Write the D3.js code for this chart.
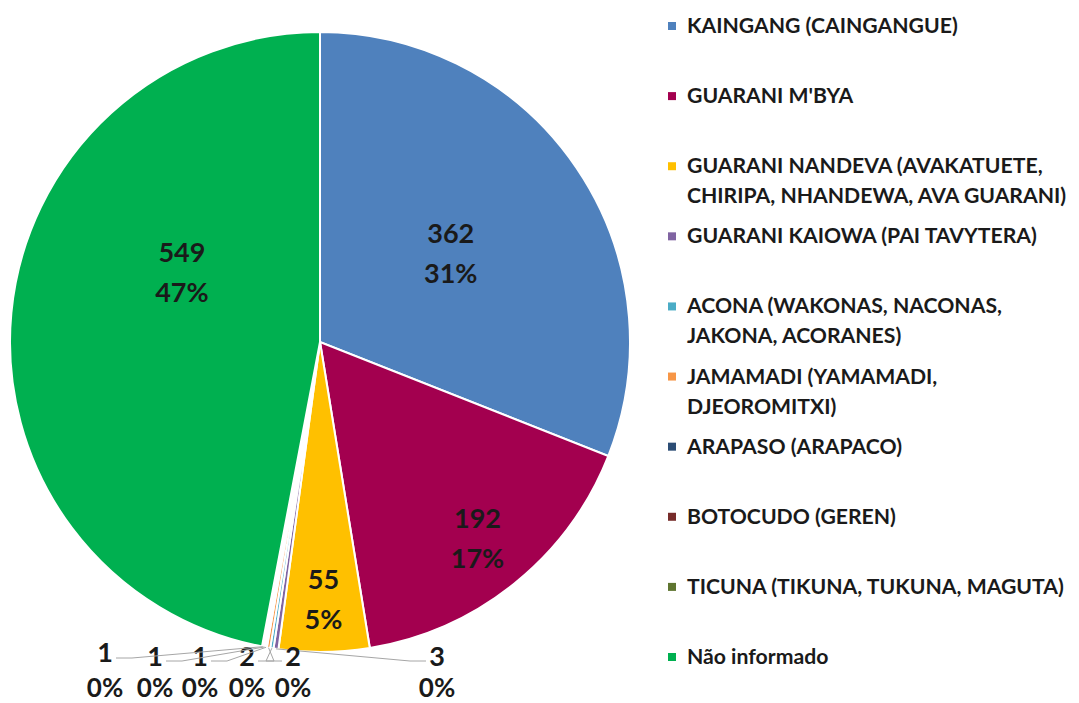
<!DOCTYPE html>
<html>
<head>
<meta charset="utf-8">
<script src="https://cdn.jsdelivr.net/npm/d3@7"></script>
<style>
  body { margin: 0; background: #fff; }
  text { font-family: Lato, "Open Sans", sans-serif; font-weight: bold; fill: #1a1a1a; }
</style>
</head>
<body>
<svg width="1079" height="703"></svg>
<script>
// data
const groups = [
    'KAINGANG (CAINGANGUE)',
    "GUARANI M'BYA",
    'GUARANI NANDEVA (AVAKATUETE,\nCHIRIPA, NHANDEWA, AVA GUARANI)',
    'GUARANI KAIOWA (PAI TAVYTERA)',
    'ACONA (WAKONAS, NACONAS,\nJAKONA, ACORANES)',
    'JAMAMADI (YAMAMADI,\nDJEOROMITXI)',
    'ARAPASO (ARAPACO)',
    'BOTOCUDO (GEREN)',
    'TICUNA (TIKUNA, TUKUNA, MAGUTA)',
    'Não informado',
];
const counts = [362, 192, 55, 3, 2, 2, 1, 1, 1, 549];
const percentLabels = ['31%', '17%', '5%', '0%', '0%', '0%', '0%', '0%', '0%', '47%'];
const colors = ['#4f81bd', '#a3004f', '#ffc000', '#8064a2', '#4bacc6',
    '#f79646', '#2c4d75', '#772c2a', '#5f7530', '#00b050'];

const svg = d3.select('svg');
const cx = 320, cy = 342, radius = 310;

const pie = d3.pie().sort(null).value(d => d.count);
const rows = groups.map((g, i) => ({ name: g, count: counts[i], pct: percentLabels[i], color: colors[i] }));
const arcs = pie(rows);

const arc = d3.arc().innerRadius(0).outerRadius(radius);

const g = svg.append('g').attr('transform', 'translate(' + cx + ',' + cy + ')');

g.selectAll('path.slice')
    .data(arcs)
    .enter()
    .append('path')
    .attr('class', 'slice')
    .attr('d', arc)
    .attr('fill', d => d.data.color)
    .attr('stroke', '#fff')
    .attr('stroke-width', 2);

// big slices: labels inside (excel best fit). [radius factor, angle in degrees or null = mid angle]
const insidePos = { 0: [0.51, null], 1: [0.81, null], 2: [0.83, null], 9: [0.5, -63] };
const inside = arcs.filter(d => insidePos[d.index] !== undefined);

const insideLabels = g.selectAll('g.inlabel')
    .data(inside)
    .enter()
    .append('g')
    .attr('class', 'inlabel')
    .attr('transform', d => {
        const p = insidePos[d.index];
        const a = p[1] === null ? (d.startAngle + d.endAngle) / 2 : p[1] * Math.PI / 180;
        const r = radius * p[0];
        return 'translate(' + (Math.sin(a) * r) + ',' + (-Math.cos(a) * r) + ')';
    });

insideLabels.append('text')
    .attr('text-anchor', 'middle')
    .attr('y', -10)
    .style('font-size', '27px')
    .text(d => d.data.count);
insideLabels.append('text')
    .attr('text-anchor', 'middle')
    .attr('y', 30)
    .style('font-size', '27px')
    .text(d => d.data.pct);

// tiny slices: labels in a row under the pie
const outsideX = { 3: 437, 4: 293, 5: 247, 6: 200, 7: 155, 8: 105 };
const rowY = 661;
const outside = arcs.filter(d => outsideX[d.index] !== undefined);

outside.forEach(d => {
    const a = (d.startAngle + d.endAngle) / 2;
    const px = cx + Math.sin(a) * radius;
    const py = cy - Math.cos(a) * radius;
    const lx = outsideX[d.index];
    const side = lx < px ? 1 : -1;
    const lineY = d.index === 8 ? rowY - 3 : rowY;
    const pts = [[lx + side * 11, lineY], [lx + side * 27, lineY], [px, py]];
    svg.append('path')
        .attr('d', d3.line()(pts))
        .attr('fill', 'none')
        .attr('stroke', '#a6a6a6')
        .attr('stroke-width', 1);
    svg.append('text')
        .attr('x', lx)
        .attr('y', d.index === 8 ? rowY + 1 : rowY + 5)
        .attr('text-anchor', 'middle')
        .style('font-size', '27px')
        .text(d.data.count);
    svg.append('text')
        .attr('x', lx)
        .attr('y', 697)
        .attr('text-anchor', 'middle')
        .style('font-size', '26px')
        .text(d.data.pct);
});

// legend
const ly = d3.scalePoint().domain(d3.range(groups.length)).range([25, 656]);
const legend = svg.append('g').attr('class', 'legend');
const items = legend.selectAll('g')
    .data(rows)
    .enter()
    .append('g')
    .attr('transform', (d, i) => 'translate(668,' + ly(i) + ')');

items.append('rect')
    .attr('x', 0)
    .attr('y', -3)
    .attr('width', 8)
    .attr('height', 8)
    .attr('fill', d => d.color);

items.each(function (d) {
    const t = d3.select(this).append('text')
        .attr('x', 19)
        .attr('y', 8)
        .style('font-size', '21.2px');
    d.name.split('\n').forEach((line, k) => {
        t.append('tspan').attr('x', 19).attr('dy', k ? 30 : 0).text(line);
    });
});
</script>
</body>
</html>
